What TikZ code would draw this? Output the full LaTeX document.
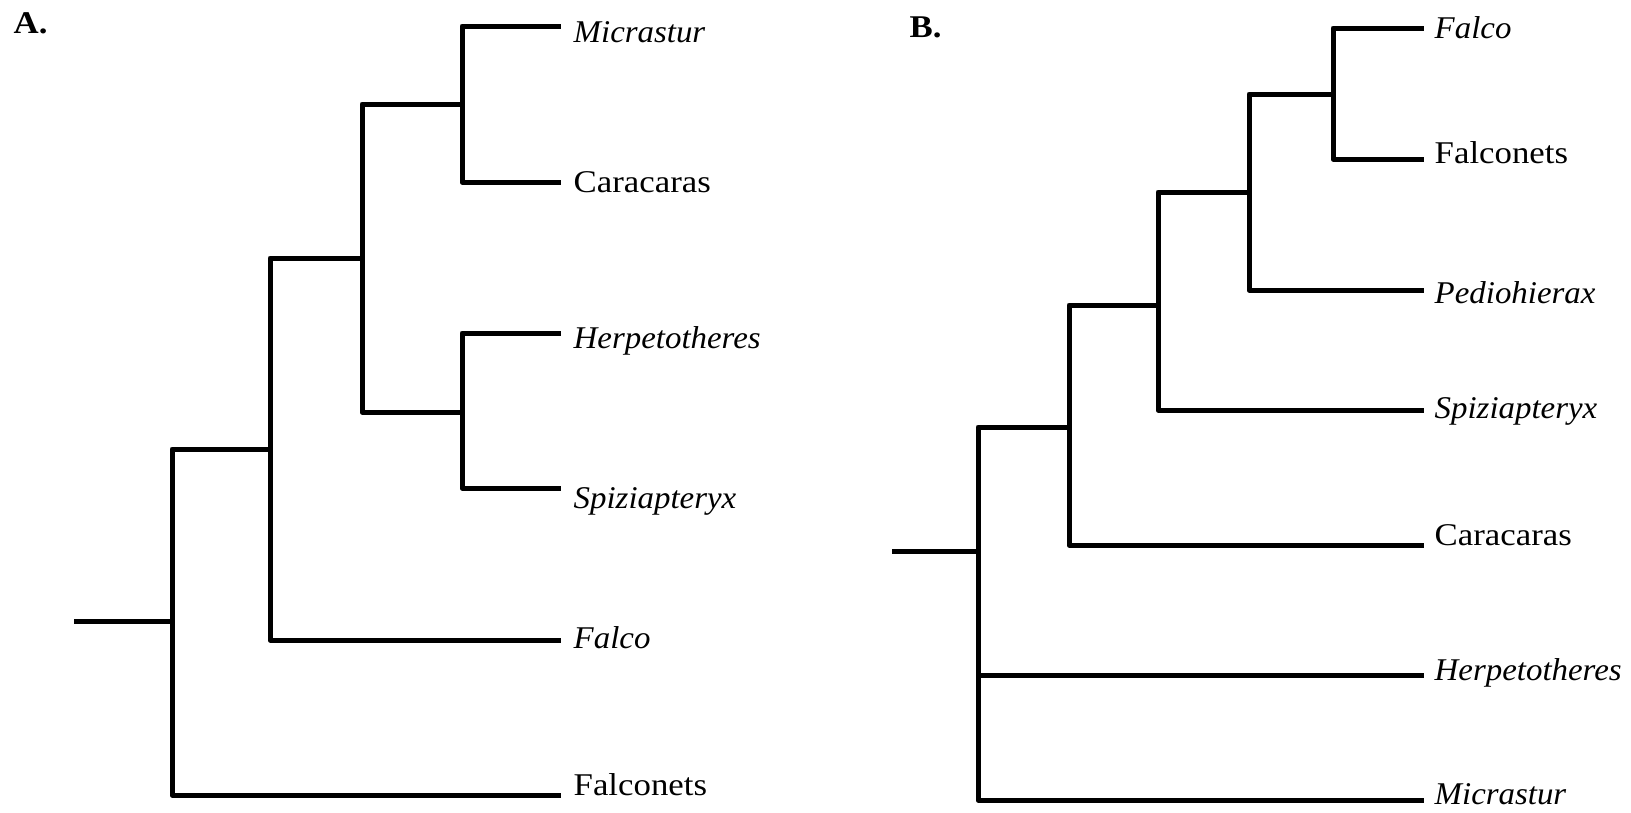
\documentclass[tikz,border=0pt]{standalone}
\usepackage{fontspec}
\setmainfont{Liberation Serif}[UprightFeatures={FakeStretch=1.1}, BoldFeatures={FakeStretch=1.1}, ItalicFeatures={FakeStretch=1.04}]
\usepackage{tikz}
\usetikzlibrary{positioning}

\begin{document}
\begin{tikzpicture}[x=0.1mm, y=-0.1mm,
  branch/.style={line width=0.5mm, line join=round, line cap=rect},
  taxon/.style={anchor=west, inner sep=0pt, font=\fontsize{9}{11}\selectfont, text height=0.66em, text depth=0pt},
  panel/.style={anchor=west, inner sep=0pt, font=\fontsize{9}{11}\selectfont\bfseries}]
\useasboundingbox (0,0) rectangle (1631,813);

% tree A
\node[panel] (labA) at (13,23) {A.};
\foreach \n/\y/\ty/\t in {micA/26/31/{\textit{Micrastur}}, carA/182/181/Caracaras, herA/333/337/{\textit{Herpetotheres}},
                          spiA/488/497/{\textit{Spiziapteryx}}, falA/640/637/{\textit{Falco}}, fntA/795/784/Falconets} {
  \coordinate (\n) at (558,\y);
  \node[taxon] (\n-l) at (573,\ty) {\t};
}
\coordinate (a1) at (462,104);
\coordinate (a2) at (462,412);
\coordinate (a3) at (362,258);
\coordinate (a4) at (270,449);
\coordinate (a5) at (172,621);
\coordinate (rootA) at (76,621);
\draw[branch] (a1) |- (micA) (a1) |- (carA);
\draw[branch] (a2) |- (herA) (a2) |- (spiA);
\draw[branch] (a3) |- (a1) (a3) |- (a2);
\draw[branch] (a4) |- (a3) (a4) |- (falA);
\draw[branch] (a5) |- (a4) (a5) |- (fntA);
\draw[branch] (rootA) -- (a5);

% tree B
\node[panel] (labB) at (909,27) {B.};
\foreach \n/\y/\ty/\t in {falB/28/27/{\textit{Falco}}, fntB/159/152/Falconets, pedB/290/292/{\textit{Pediohierax}},
                          spiB/410/407/{\textit{Spiziapteryx}}, carB/545/534/Caracaras, herB/675/669/{\textit{Herpetotheres}},
                          micB/800/793/{\textit{Micrastur}}} {
  \coordinate (\n) at (1421,\y);
  \node[taxon] (\n-l) at (1434,\ty) {\t};
}
\coordinate (b1) at (1333,94);
\coordinate (b2) at (1249,192);
\coordinate (b3) at (1158,305);
\coordinate (b4) at (1069,427);
\coordinate (b5) at (978,551);
\coordinate (rootB) at (894,551);
\draw[branch] (b1) |- (falB) (b1) |- (fntB);
\draw[branch] (b2) |- (b1) (b2) |- (pedB);
\draw[branch] (b3) |- (b2) (b3) |- (spiB);
\draw[branch] (b4) |- (b3) (b4) |- (carB);
\draw[branch] (b5) |- (b4) (b5) |- (herB) (b5) |- (micB);
\draw[branch] (rootB) -- (b5);
\end{tikzpicture}
\end{document}
